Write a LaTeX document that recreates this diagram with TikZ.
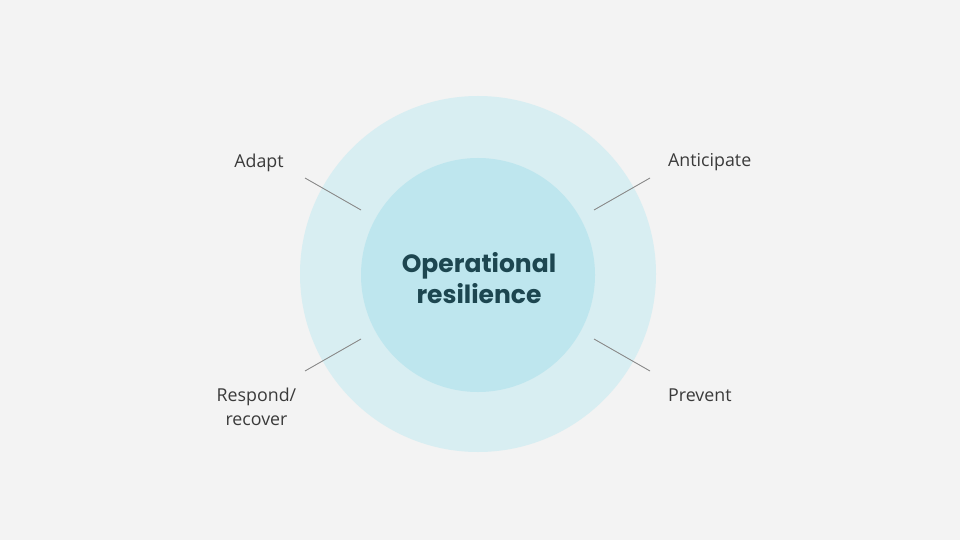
\documentclass[tikz,border=0pt]{standalone}
\usepackage{fontspec}
\setmainfont{Open Sans}
\newfontfamily\titlefont{Poppins}
\definecolor{bgc}{HTML}{F3F3F3}
\definecolor{outerc}{HTML}{D8EEF2}
\definecolor{innerc}{HTML}{BEE6EE}
\definecolor{titlec}{HTML}{1D4650}
\definecolor{labelc}{HTML}{3A3A3A}
\definecolor{linec}{HTML}{8A8A8A}
\begin{document}
\begin{tikzpicture}[x=1pt,y=-1pt,
  lbl/.style={text=labelc,font=\fontsize{17.8}{24}\selectfont,inner sep=0pt,align=center},
  conn/.style={draw=linec,line width=0.9pt}]
\fill[bgc] (0,0) rectangle (960,540);
\useasboundingbox (0,0) rectangle (960,540);
\node[circle,fill=outerc,minimum size=356pt,inner sep=0pt] (outer) at (478,274) {};
\node[circle,fill=innerc,minimum size=234pt,inner sep=0pt] (inner) at (478,275) {};
\node[text=titlec,font=\titlefont\bfseries\fontsize{25}{31.5}\selectfont,align=center,inner sep=0pt] (title) at (479,278) {Operational\\resilience};
\node[lbl] (adapt) at (259,162.5) {Adapt};
\node[lbl,anchor=west] (antic) at (668,162.5) {Anticipate};
\node[lbl] (resp) at (256.5,406.5) {Respond/\\recover};
\node[lbl,anchor=west] (prev) at (668,395.5) {Prevent};
\coordinate (a1) at (305,178); \coordinate (a2) at (361,210);
\coordinate (b1) at (650,178); \coordinate (b2) at (594,210);
\coordinate (c1) at (305,371); \coordinate (c2) at (361,339);
\coordinate (d1) at (650,371); \coordinate (d2) at (594,339);
\draw[conn] (a1) -- (a2);
\draw[conn] (b1) -- (b2);
\draw[conn] (c1) -- (c2);
\draw[conn] (d1) -- (d2);
\end{tikzpicture}
\end{document}
